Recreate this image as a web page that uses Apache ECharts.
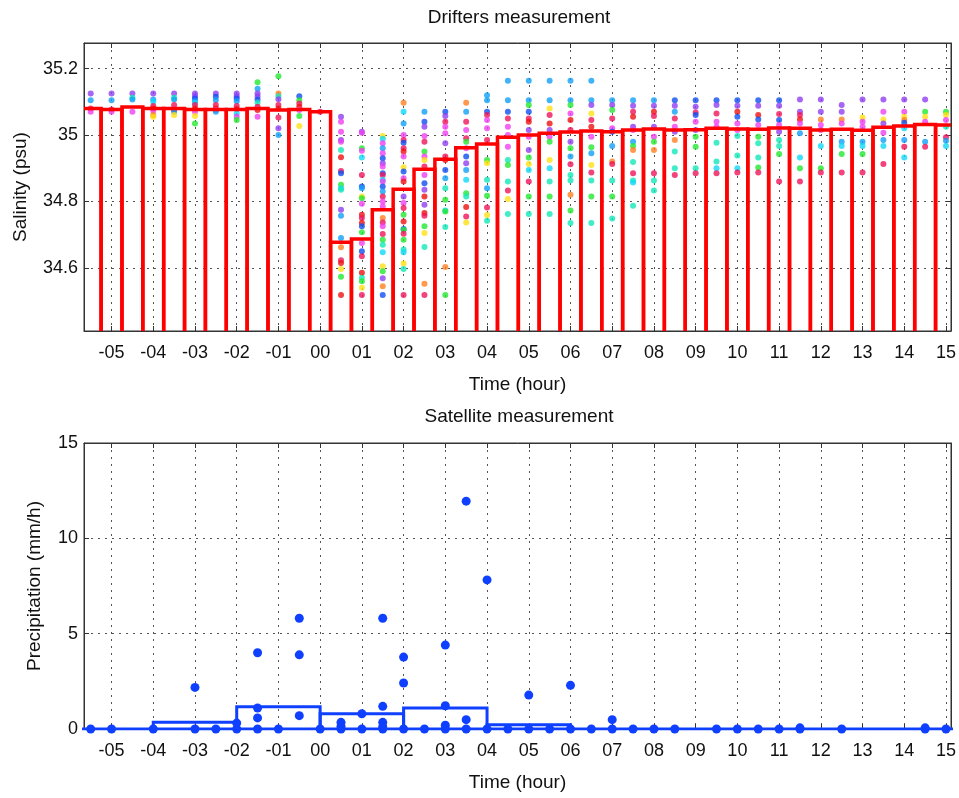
<!DOCTYPE html>
<html>
<head>
<meta charset="utf-8">
<script src="https://cdn.jsdelivr.net/npm/echarts@6/dist/echarts.min.js"></script>
<style>
  html, body { margin: 0; padding: 0; background: #fff; }
  #chart { width: 959px; height: 798px; }
</style>
</head>
<body>
<div id="chart"></div>
<script>
// half-hour bins (drifters)
var binTimes = [-5.5, -5, -4.5, -4, -3.5, -3, -2.5, -2, -1.5, -1, -0.5, 0,
    0.5, 1, 1.5, 2, 2.5, 3, 3.5, 4, 4.5, 5, 5.5, 6, 6.5, 7, 7.5, 8, 8.5, 9, 9.5,
    10, 10.5, 11, 11.5, 12, 12.5, 13, 13.5, 14, 14.5, 15];

// mean salinity of each bin (red outline)
var salinityMean = [35.080, 35.077, 35.084, 35.080, 35.080, 35.077, 35.077, 35.077, 35.080, 35.075, 35.077, 35.070,
    34.677, 34.687, 34.775, 34.837, 34.897, 34.927, 34.962, 34.973, 34.993, 35.000, 35.005, 35.009, 35.012, 35.010, 35.015,
    35.018, 35.015, 35.016, 35.020, 35.018, 35.017, 35.021, 35.020, 35.015, 35.017, 35.014, 35.023, 35.027, 35.032, 35.030];

// drifter colours
var palette = ['#ee1111', '#ff8020', '#ffe010', '#22e830', '#10e8b8', '#10d8f8',
    '#10a0f8', '#1050f0', '#9040f0', '#f040f0', '#f0145a'];

// single measurements per bin : [salinity, colour index]
var drifterDots = [
    [[35.125,8],[35.105,6],[35.080,10],[35.070,9]],
    [[35.125,8],[35.105,6],[35.077,10],[35.070,9]],
    [[35.125,8],[35.112,4],[35.107,6],[35.070,9]],
    [[35.125,8],[35.107,6],[35.100,5],[35.087,10],[35.080,0],[35.073,9],[35.060,1],[35.055,2]],
    [[35.125,8],[35.112,4],[35.107,6],[35.090,10],[35.077,9],[35.075,0],[35.070,6],[35.060,2]],
    [[35.125,8],[35.117,8],[35.110,7],[35.102,6],[35.097,5],[35.090,10],[35.080,0],[35.070,9],[35.057,2],[35.035,3]],
    [[35.125,8],[35.115,7],[35.105,6],[35.090,10],[35.080,0],[35.075,9],[35.070,6]],
    [[35.125,8],[35.117,8],[35.110,7],[35.102,6],[35.087,10],[35.078,0],[35.065,5],[35.055,9],[35.045,3]],
    [[35.159,3],[35.139,6],[35.125,8],[35.117,8],[35.107,7],[35.097,4],[35.085,10],[35.075,0],[35.055,9]],
    [[35.177,3],[35.125,1],[35.117,4],[35.108,8],[35.090,10],[35.080,0],[35.053,10],[35.020,8],[35.000,6]],
    [[35.117,7],[35.105,3],[35.095,10],[35.085,0],[35.075,9],[35.057,3],[35.027,2]],
    [[35.070,10]],
    [[35.055,8],[35.040,9],[35.010,9],[34.985,8],[34.980,9],[34.955,4],[34.933,0],[34.892,10],[34.885,7],[34.850,3],[34.840,5],
     [34.835,4],[34.775,8],[34.757,6],[34.690,6],[34.662,1],[34.623,10],[34.615,0],[34.597,2],[34.573,3],[34.518,0]],
    [[35.010,8],[35.007,9],[34.960,3],[34.953,9],[34.932,5],[34.880,10],[34.845,7],[34.840,6],[34.815,2],[34.810,3],[34.793,9],
     [34.760,0],[34.750,10],[34.735,0],[34.725,7],[34.707,3],[34.675,9],[34.650,7],[34.635,10],[34.585,0],[34.570,4],[34.560,3],
     [34.540,2],[34.518,10]],
    [[34.997,2],[34.989,5],[34.975,9],[34.960,6],[34.945,9],[34.930,7],[34.915,8],[34.905,9],[34.885,7],[34.880,10],[34.865,5],
     [34.860,9],[34.845,7],[34.830,6],[34.815,10],[34.800,9],[34.785,9],[34.750,1],[34.737,10],[34.725,9],[34.702,10],[34.685,3],
     [34.670,4],[34.647,5],[34.605,2],[34.590,3],[34.569,8],[34.545,1],[34.518,7]],
    [[35.097,1],[35.070,5],[35.035,6],[35.000,9],[34.985,10],[34.977,7],[34.960,10],[34.950,0],[34.935,9],[34.903,2],[34.890,7],
     [34.870,9],[34.860,0],[34.815,8],[34.795,9],[34.780,10],[34.760,3],[34.740,0],[34.717,7],[34.715,3],[34.703,10],[34.685,3],
     [34.655,4],[34.647,5],[34.613,2],[34.597,4],[34.518,10]],
    [[35.070,6],[35.040,7],[35.025,8],[34.997,9],[34.980,10],[34.950,3],[34.935,9],[34.925,2],[34.905,10],[34.880,9],[34.855,7],
     [34.835,8],[34.815,0],[34.790,8],[34.765,0],[34.757,10],[34.725,3],[34.705,2],[34.663,4],[34.552,1],[34.518,10]],
    [[35.070,7],[35.057,8],[35.040,10],[35.025,9],[35.005,9],[34.975,8],[34.935,10],[34.925,0],[34.895,7],[34.870,6],[34.840,4],
     [34.805,3],[34.773,5],[34.770,3],[34.723,4],[34.603,1],[34.518,3]],
    [[35.097,1],[35.070,6],[35.040,10],[35.015,9],[34.990,10],[34.980,3],[34.960,9],[34.935,7],[34.915,8],[34.895,6],[34.865,5],
     [34.825,3],[34.815,4],[34.783,0],[34.755,10],[34.737,2]],
    [[35.120,6],[35.105,6],[35.070,7],[35.060,10],[35.045,9],[35.020,9],[34.985,10],[34.925,3],[34.915,2],[34.865,4],[34.840,6],
     [34.817,3],[34.782,10],[34.759,2],[34.742,4]],
    [[35.163,6],[35.105,6],[35.070,7],[35.050,10],[35.025,9],[35.000,9],[34.965,9],[34.925,4],[34.910,3],[34.860,4],[34.833,10],
     [34.807,2],[34.762,4]],
    [[35.163,6],[35.105,6],[35.090,3],[35.070,7],[35.050,10],[35.040,0],[35.015,8],[34.995,9],[34.955,8],[34.932,3],[34.913,2],
     [34.895,5],[34.860,10],[34.815,3],[34.762,4]],
    [[35.163,6],[35.105,6],[35.080,2],[35.060,10],[35.035,0],[35.015,8],[34.995,9],[34.980,3],[34.925,2],[34.900,5],[34.860,4],
     [34.815,3],[34.762,4]],
    [[35.163,6],[35.105,6],[35.090,3],[35.065,9],[35.045,0],[35.015,10],[34.980,8],[34.960,3],[34.935,6],[34.912,10],[34.880,4],
     [34.863,4],[34.820,1],[34.773,3],[34.735,4]],
    [[35.163,6],[35.105,6],[35.090,8],[35.065,2],[35.045,10],[35.025,0],[34.995,9],[34.963,3],[34.945,6],[34.910,2],[34.887,10],
     [34.863,4],[34.815,3],[34.735,4]],
    [[35.105,6],[35.090,8],[35.075,3],[35.050,10],[35.020,9],[35.010,7],[34.967,6],[34.920,1],[34.913,10],[34.863,4],[34.815,3],
     [34.749,4]],
    [[35.105,6],[35.088,8],[35.070,10],[35.055,0],[35.025,8],[35.015,9],[34.980,6],[34.967,3],[34.955,1],[34.919,4],[34.885,10],
     [34.863,4],[34.857,5],[34.787,4]],
    [[35.105,6],[35.088,8],[35.070,0],[35.057,10],[35.025,8],[34.995,9],[34.980,3],[34.955,1],[34.885,10],[34.863,4],[34.833,4]],
    [[35.105,7],[35.088,8],[35.070,6],[35.050,10],[35.025,9],[35.010,8],[34.985,1],[34.950,4],[34.900,4],[34.880,10]],
    [[35.105,7],[35.085,8],[35.068,10],[35.060,7],[35.040,9],[35.015,8],[34.995,3],[34.965,3],[34.900,4],[34.885,10]],
    [[35.105,7],[35.090,8],[35.065,10],[35.040,9],[35.025,9],[34.977,4],[34.920,4],[34.900,5],[34.885,10]],
    [[35.105,7],[35.088,8],[35.070,0],[35.055,7],[35.035,9],[35.015,9],[34.997,4],[34.938,4],[34.900,5],[34.887,10]],
    [[35.105,7],[35.088,8],[35.060,0],[35.047,7],[35.030,9],[34.995,3],[34.975,4],[34.932,4],[34.902,3],[34.887,10]],
    [[35.105,7],[35.088,8],[35.063,10],[35.045,7],[35.030,9],[35.010,8],[34.985,4],[34.967,4],[34.943,3],[34.860,10]],
    [[35.107,8],[35.070,8],[35.060,10],[35.047,0],[35.035,9],[35.005,6],[34.932,5],[34.900,3],[34.860,10]],
    [[35.107,8],[35.070,8],[35.047,1],[35.030,9],[35.015,9],[34.967,5],[34.900,3],[34.887,10]],
    [[35.090,8],[35.070,8],[35.047,1],[35.035,9],[34.980,6],[34.967,5],[34.943,3],[34.887,10]],
    [[35.107,8],[35.053,2],[35.040,9],[35.025,9],[34.980,6],[34.967,5],[34.943,3],[34.887,10]],
    [[35.107,8],[35.070,9],[35.047,2],[35.035,8],[35.007,9],[34.985,6],[34.967,5],[34.913,10]],
    [[35.107,8],[35.070,9],[35.055,2],[35.045,1],[35.037,7],[35.020,5],[34.985,6],[34.965,10],[34.932,5]],
    [[35.107,8],[35.070,3],[35.055,2],[35.040,9],[34.980,6],[34.965,10]],
    [[35.070,3],[35.060,2],[35.045,9],[35.025,4],[34.993,10],[34.983,6],[34.967,5]]
];

// satellite: 2-hour bins and single estimates [time, mm/h]
var rainBinTimes = [-5, -3, -1, 1, 3, 5, 7, 9, 11, 13, 15];
var rainBinMean = [0, 0.35, 1.17, 0.8, 1.1, 0.22, 0, 0, 0, 0, 0];
var rainDots = [[-5.5,0],[-5,0],[-4,0],[-3,2.18],[-3,0],[-2.5,0],[-2,0.31],[-2,0],[-1.5,4.0],[-1.5,1.1],[-1.5,0.58],[-1.5,0],
    [-1,0],[-0.5,5.81],[-0.5,3.89],[-0.5,0.7],[0,0],[0.5,0.35],[0.5,0.15],[0.5,0],[1,0.8],[1,0],[1.5,5.81],[1.5,1.19],
    [1.5,0.35],[1.5,0.12],[1.5,0],[2,3.77],[2,2.41],[2,0],[2.5,0],[3,4.4],[3,1.22],[3,0.2],[3,0],[3.5,11.95],[3.5,0.49],
    [3.5,0],[4,7.82],[4,0],[4.5,0],[5,1.78],[5,0],[5.5,0],[6,2.29],[6,0],[6.5,0],[7,0.49],[7,0],[7.5,0],[8,0],[8.5,0],
    [9.5,0],[10,0],[10.5,0],[11,0],[11.5,0.06],[11.5,0],[12.5,0],[14.5,0.06],[14.5,0],[15,0]];

// tick labels
var hourTicks = [-5, -4, -3, -2, -1, 0, 1, 2, 3, 4, 5, 6, 7, 8, 9, 10, 11, 12, 13, 14, 15];
var salinityTicks = [34.6, 34.8, 35, 35.2];

var FONT = 'Liberation Sans, Arial, Helvetica, sans-serif';
var AXIS_COLOR = '#333';

function hourLabel(v) {
    var a = Math.abs(Math.round(v));
    var s = a < 10 ? '0' + a : String(a);
    return v < 0 ? '-' + s : s;
}

// outlined bar from base up to value, width = 2 * halfWidth (like matlab bar edges)
function outlineBars(halfWidth, base, color, width) {
    return function (params, api) {
        var t = api.value(0), v = api.value(1);
        var p1 = api.coord([t - halfWidth, v]);
        var p2 = api.coord([t + halfWidth, base]);
        return {
            type: 'rect',
            shape: { x: p1[0], y: p1[1], width: p2[0] - p1[0], height: p2[1] - p1[1] },
            style: { fill: 'none', stroke: color, lineWidth: width }
        };
    };
}

function xAxisOf(grid, main) {
    return {
        gridIndex: grid, type: 'value', min: -5.66, max: 15.12,
        position: main ? 'bottom' : 'top',
        axisLine: { onZero: false, lineStyle: { color: AXIS_COLOR } },
        axisTick: { inside: true, length: 5, customValues: hourTicks, lineStyle: { color: AXIS_COLOR } },
        axisLabel: { show: main, customValues: hourTicks, formatter: hourLabel, fontSize: 18, margin: 13,
            color: '#111', fontFamily: FONT },
        splitLine: { show: main, lineStyle: { type: [2, 5], color: '#555', width: 1 } },
        name: main ? 'Time (hour)' : '', nameLocation: 'middle', nameGap: 44,
        nameTextStyle: { fontSize: 19, color: '#111', fontFamily: FONT }
    };
}

function yAxisOf(grid, main, min, max, ticks, title, gap) {
    var ax = {
        gridIndex: grid, type: 'value', min: min, max: max,
        position: main ? 'left' : 'right',
        axisLine: { show: true, onZero: false, lineStyle: { color: AXIS_COLOR } },
        axisTick: { show: true, inside: true, length: 5, lineStyle: { color: AXIS_COLOR } },
        axisLabel: { show: main, fontSize: 18, margin: 6, color: '#111', fontFamily: FONT },
        splitLine: { show: main, lineStyle: { type: [2, 5], color: '#555', width: 1 } },
        name: main ? title : '', nameLocation: 'middle', nameGap: gap,
        nameTextStyle: { fontSize: 19, color: '#111', fontFamily: FONT }
    };
    if (ticks) {
        ax.axisTick.customValues = ticks;
        ax.axisLabel.customValues = ticks;
    } else {
        ax.interval = 5;
    }
    return ax;
}

var dotData = [];
drifterDots.forEach(function (col, i) {
    col.forEach(function (d) {
        dotData.push({ value: [binTimes[i], d[0]], itemStyle: { color: palette[d[1]] } });
    });
});

var myChart = echarts.init(document.getElementById('chart'));
myChart.setOption({
    animation: false,
    backgroundColor: '#fff',
    title: [
        { text: 'Drifters measurement', left: 519, top: 8, textAlign: 'center', padding: 0,
          textStyle: { fontSize: 19, fontWeight: 'normal', color: '#111', fontFamily: FONT } },
        { text: 'Satellite measurement', left: 519, top: 407, textAlign: 'center', padding: 0,
          textStyle: { fontSize: 19, fontWeight: 'normal', color: '#111', fontFamily: FONT } }
    ],
    grid: [
        { left: 84, right: 5, top: 43, height: 288, show: true, borderColor: AXIS_COLOR, borderWidth: 1 },
        { left: 84, right: 5, top: 443, height: 286, show: true, borderColor: AXIS_COLOR, borderWidth: 1 }
    ],
    xAxis: [xAxisOf(0, true), xAxisOf(0, false), xAxisOf(1, true), xAxisOf(1, false)],
    yAxis: [
        yAxisOf(0, true, 34.41, 35.277, salinityTicks, 'Salinity (psu)', 54),
        yAxisOf(0, false, 34.41, 35.277, salinityTicks, '', 0),
        yAxisOf(1, true, 0, 15, null, 'Precipitation (mm/h)', 40),
        yAxisOf(1, false, 0, 15, null, '', 0)
    ],
    series: [
        {
            type: 'scatter', xAxisIndex: 0, yAxisIndex: 0, symbolSize: 6, z: 2,
            data: dotData
        },
        {
            type: 'custom', xAxisIndex: 0, yAxisIndex: 0, clip: true, z: 3,
            renderItem: outlineBars(0.25, 34.3, '#ff0000', 3.5),
            data: binTimes.map(function (t, i) { return [t, salinityMean[i]]; })
        },
        {
            type: 'custom', xAxisIndex: 2, yAxisIndex: 2, clip: true, z: 2,
            lineStyle: { width: 3 },
            renderItem: outlineBars(1, 0, '#1040ff', 3),
            data: rainBinTimes.map(function (t, i) { return [t, rainBinMean[i]]; })
        },
        {
            type: 'scatter', xAxisIndex: 2, yAxisIndex: 2, symbolSize: 9, z: 3,
            itemStyle: { color: '#1040ff', opacity: 1 },
            data: rainDots
        }
    ]
});
</script>
</body>
</html>
